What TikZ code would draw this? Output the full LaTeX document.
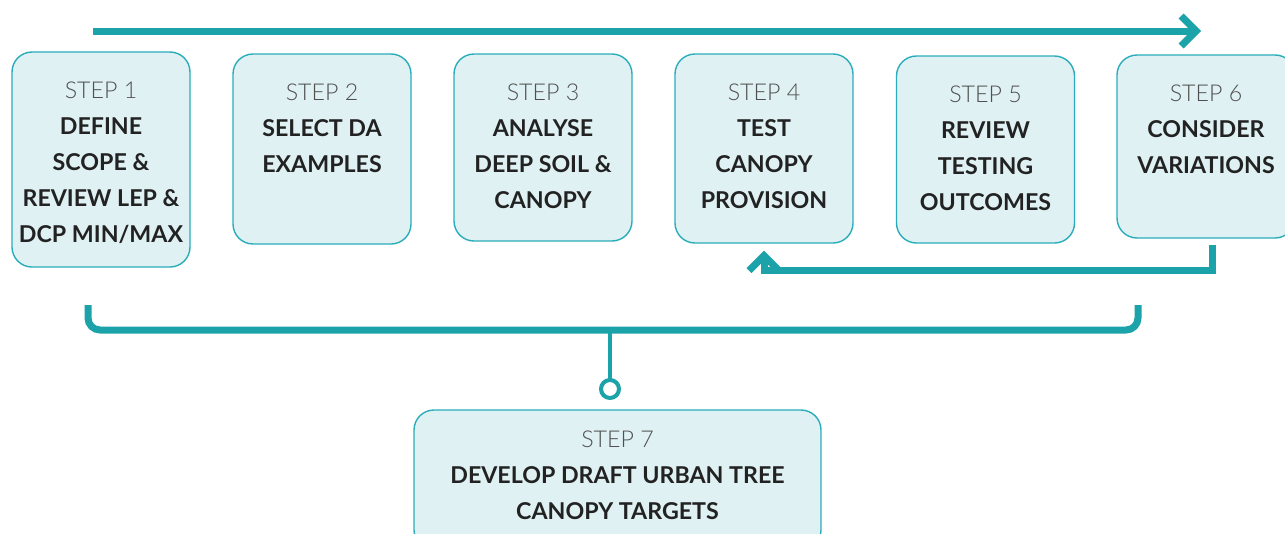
\documentclass[tikz,border=0pt]{standalone}
\usepackage{fontspec}
\setmainfont{Lato}
\newfontfamily\lightfont{Lato Light}
\usepackage{tikz}
\usetikzlibrary{arrows.meta,positioning}

\definecolor{teal1}{HTML}{1CA2A9}
\definecolor{boxline}{HTML}{2AADBA}
\definecolor{boxfill}{HTML}{DFF1F3}
\definecolor{steplbl}{HTML}{505050}
\definecolor{ink}{HTML}{222222}

\tikzset{
  stepbox/.style={draw=boxline, fill=boxfill, line width=1.4pt, rounded corners=20pt,
    minimum width=178pt, inner sep=0pt},
  steptext/.style={align=center, inner sep=0pt, text=ink,
    font=\fontsize{23.2}{36.2}\selectfont\bfseries},
  flow/.style={draw=teal1, line width=7pt},
  chev/.style={-{Straight Barb[length=15pt,width=30pt]}},
}
\newcommand{\stepno}[1]{{\lightfont\mdseries\color{steplbl}STEP #1}}

\begin{document}
\begin{tikzpicture}[x=1pt,y=-1pt]
\useasboundingbox (0,0) rectangle (1285,533);
%----------------------------------
\node[stepbox, minimum height=215pt] (s1) at (101,159.5) {};
\node[stepbox, minimum height=190pt] (s2) at (322,149) {};
\node[stepbox, minimum height=187pt] (s3) at (543,147.5) {};
\node[stepbox, minimum height=189pt] (s4) at (764,148.5) {};
\node[stepbox, minimum height=187pt] (s5) at (985.5,149.5) {};
\node[stepbox, minimum height=183pt] (s6) at (1206,146.5) {};
\node[stepbox, minimum width=407pt, minimum height=140pt] (s7) at (617.5,480) {};
%----------------------------------
\node[steptext, below=30pt of s1.north] (t1) {\stepno{1}\\DEFINE\\SCOPE \&\\REVIEW LEP \&\\DCP MIN/MAX};
\node[steptext, below=30pt of s2.north] (t2) {\stepno{2}\\SELECT DA\\EXAMPLES};
\node[steptext, below=30pt of s3.north] (t3) {\stepno{3}\\ANALYSE\\DEEP SOIL \&\\CANOPY};
\node[steptext, below=30pt of s4.north] (t4) {\stepno{4}\\TEST\\CANOPY\\PROVISION};
\node[steptext, below=30pt of s5.north] (t5) {\stepno{5}\\REVIEW\\TESTING\\OUTCOMES};
\node[steptext, below=30pt of s6.north] (t6) {\stepno{6}\\CONSIDER\\VARIATIONS};
\node[steptext, below=21pt of s7.north] (t7) {\stepno{7}\\DEVELOP DRAFT URBAN TREE\\CANOPY TARGETS};
%----------------------------------
\coordinate (go1) at (93,31);
\coordinate (go2) at (1201,31);
\coordinate (br1) at (88,305);
\coordinate (br2) at (1138,305);
\coordinate (stem) at (610,330);
\coordinate (ring) at (610,389);
%----------------------------------
\draw[flow, chev] (go1) -- (go2);
\draw[flow, chev] ([xshift=6pt,yshift=-6pt]s6.south) -- ++(0,26) -| ([yshift=-7pt]s4.south);
\draw[flow, rounded corners=12pt] (br1) -- ++(0,25) -| (br2);
\draw[draw=teal1, line width=4pt] (stem) -- ([yshift=-9pt]ring);
\draw[draw=teal1, line width=4pt, fill=white] (ring) circle (9pt);
\end{tikzpicture}
\end{document}
